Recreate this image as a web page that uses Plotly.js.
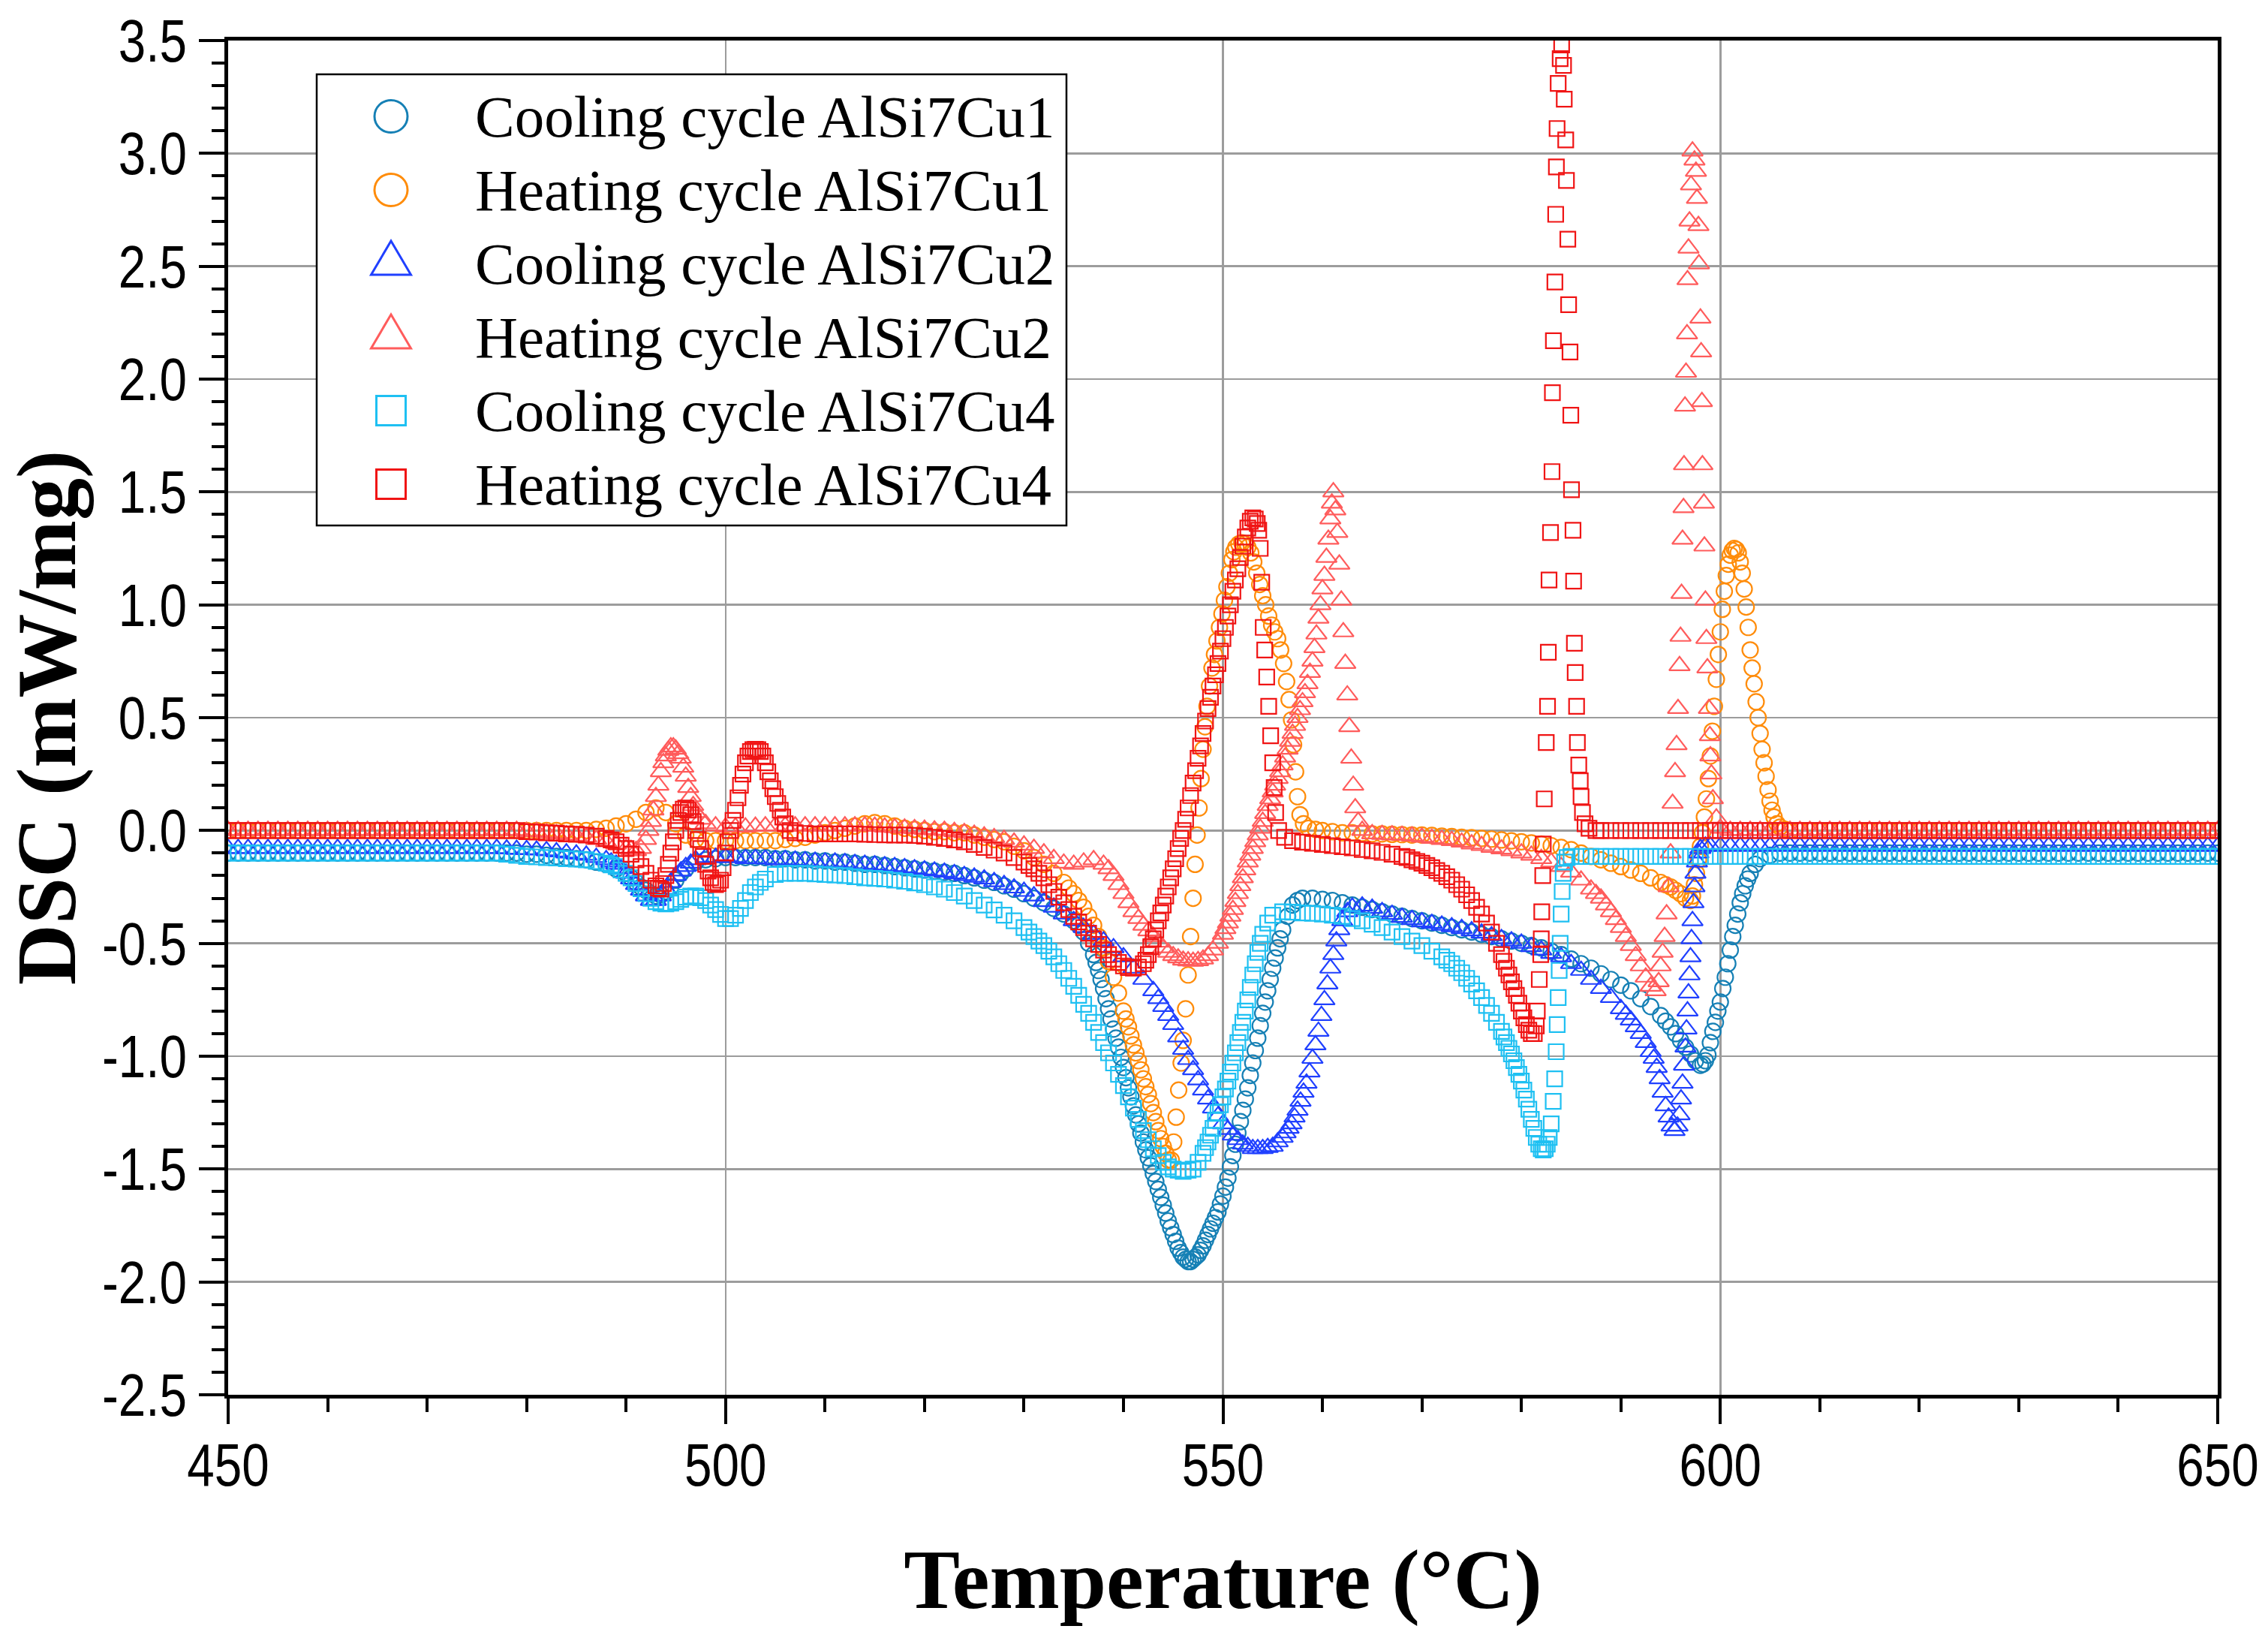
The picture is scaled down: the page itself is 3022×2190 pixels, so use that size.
<!DOCTYPE html>
<html><head><meta charset="utf-8">
<script src="https://cdn.plot.ly/plotly-3.0.1.min.js"></script>
<style>html,body{margin:0;padding:0;background:#fff;}</style>
</head><body>
<div id="chart" style="width:3022px;height:2190px;"></div>
<script>
// ---------------- DATA (temperature °C, DSC mW/mg) ----------------
const seriesNames = ['Cooling cycle AlSi7Cu1','Heating cycle AlSi7Cu1','Cooling cycle AlSi7Cu2','Heating cycle AlSi7Cu2','Cooling cycle AlSi7Cu4','Heating cycle AlSi7Cu4'];
const xTickVals = [450,500,550,600,650];
const xTickText = ['450','500','550','600','650'];
const yTickVals = [-2.5,-2,-1.5,-1,-0.5,0,0.5,1,1.5,2,2.5,3,3.5];
const yTickText = ['-2.5','-2.0','-1.5','-1.0','-0.5','0.0','0.5','1.0','1.5','2.0','2.5','3.0','3.5'];

const coolingCu1 = [
[450,-0.1],[451,-0.1],[452,-0.1],[453,-0.1],[454,-0.1],[455,-0.1],[456,-0.1],[457,-0.1],[458,-0.1],[459,-0.1],[460,-0.1],[461,-0.1],[462,-0.1],[463,-0.1],[464,-0.1],[465,-0.1],[466,-0.1],[467,-0.1],[468,-0.1],[469,-0.1],[470,-0.1],[471,-0.1],[472,-0.1],[473,-0.1],[474,-0.1],[475,-0.1],[476,-0.1],[477,-0.1],[478,-0.1],[479,-0.1],
[480,-0.105],[481,-0.105],[482,-0.11],[483,-0.115],[484,-0.12],[485,-0.125],[486,-0.13],[487,-0.14],[488,-0.15],[489,-0.17],[490,-0.19],[490.5,-0.21],[491,-0.23],[491.5,-0.25],[492,-0.265],[492.5,-0.28],[493,-0.29],[493.5,-0.285],[494,-0.27],[494.5,-0.25],[495,-0.22],[495.5,-0.19],[496,-0.17],[497,-0.14],[498,-0.13],[499,-0.125],
[500,-0.12],[501,-0.12],[502,-0.12],[503,-0.12],[504,-0.12],[505,-0.125],[506,-0.125],[507,-0.13],[508,-0.13],[509,-0.135],[510,-0.135],[511,-0.14],[512,-0.14],[513,-0.145],[514,-0.15],[515,-0.15],[516,-0.155],[517,-0.16],[518,-0.165],[519,-0.17],[520,-0.175],[521,-0.18],[522,-0.185],[523,-0.19],[524,-0.2],[525,-0.21],[526,-0.22],[527,-0.23],[528,-0.245],[529,-0.26],[530,-0.28],[531,-0.3],[532,-0.32],[533,-0.345],[534,-0.37],[535,-0.4],[535.5,-0.42],[536,-0.45],[536.5,-0.5],[537,-0.55],[537.25,-0.585],[537.5,-0.62],[537.75,-0.66],
[538,-0.7],[538.25,-0.745],[538.5,-0.79],[538.75,-0.835],[539,-0.88],[539.25,-0.92],[539.5,-0.96],[539.75,-1.005],[540,-1.05],[540.25,-1.095],[540.5,-1.14],[540.75,-1.18],[541,-1.22],[541.25,-1.26],[541.5,-1.3],[541.75,-1.34],[542,-1.38],[542.25,-1.415],[542.5,-1.45],[542.75,-1.485],[543,-1.52],[543.25,-1.555],[543.5,-1.59],[543.75,-1.625],[544,-1.66],[544.25,-1.695],[544.5,-1.73],[544.75,-1.76],[545,-1.79],[545.25,-1.82],[545.5,-1.85],[545.75,-1.87],[546,-1.89],[546.25,-1.9],[546.5,-1.91],[546.75,-1.91],[547,-1.9],[547.25,-1.89],[547.5,-1.88],[547.75,-1.86],
[548,-1.84],[548.25,-1.815],[548.5,-1.79],[548.75,-1.765],[549,-1.74],[549.25,-1.715],[549.5,-1.69],[549.75,-1.655],[550,-1.62],[550.25,-1.58],[550.5,-1.54],[550.75,-1.49],[551,-1.44],[551.25,-1.39],[551.5,-1.34],[551.75,-1.29],[552,-1.24],[552.25,-1.19],[552.5,-1.14],[552.75,-1.085],[553,-1.03],[553.25,-0.975],[553.5,-0.92],[553.75,-0.865],[554,-0.81],[554.25,-0.76],[554.5,-0.71],[554.75,-0.66],[555,-0.61],[555.25,-0.565],[555.5,-0.52],[555.75,-0.48],[556,-0.44],[556.5,-0.38],[557,-0.33],[557.5,-0.31],
[558,-0.3],[559,-0.3],[560,-0.305],[561,-0.31],[562,-0.32],[563,-0.33],[564,-0.34],[565,-0.35],[566,-0.36],[567,-0.37],[568,-0.38],[569,-0.39],[570,-0.4],[571,-0.41],[572,-0.42],[573,-0.43],[574,-0.44],[575,-0.45],[576,-0.46],[577,-0.47],[578,-0.48],[579,-0.49],[580,-0.5],[581,-0.51],[582,-0.52],[583,-0.535],[584,-0.55],[585,-0.57],[586,-0.59],[587,-0.61],[588,-0.635],[589,-0.66],[590,-0.685],[591,-0.71],[592,-0.745],[593,-0.78],[594,-0.82],[594.5,-0.845],[595,-0.87],[595.5,-0.9],[596,-0.93],[596.5,-0.96],[597,-0.99],[597.5,-1.02],
[598,-1.04],[598.25,-1.035],[598.5,-1.02],[598.75,-0.995],[599,-0.94],[599.25,-0.89],[599.5,-0.85],[599.75,-0.8],[600,-0.76],[600.25,-0.7],[600.5,-0.65],[600.75,-0.59],[601,-0.53],[601.25,-0.47],[601.5,-0.42],[601.75,-0.37],[602,-0.32],[602.25,-0.28],[602.5,-0.245],[602.75,-0.215],[603,-0.19],[603.5,-0.15],[604,-0.125],[605,-0.11],
[606,-0.1],[607,-0.1],[608,-0.1],[609,-0.1],[610,-0.1],[611,-0.1],[612,-0.1],[613,-0.1],[614,-0.1],[615,-0.1],[616,-0.1],[617,-0.1],[618,-0.1],[619,-0.1],[620,-0.1],[621,-0.1],[622,-0.1],[623,-0.1],[624,-0.1],[625,-0.1],[626,-0.1],[627,-0.1],[628,-0.1],[629,-0.1],[630,-0.1],[631,-0.1],[632,-0.1],[633,-0.1],[634,-0.1],[635,-0.1],[636,-0.1],[637,-0.1],[638,-0.1],[639,-0.1],[640,-0.1],[641,-0.1],[642,-0.1],[643,-0.1],[644,-0.1],[645,-0.1],[646,-0.1],[647,-0.1],[648,-0.1],[649,-0.1],[650,-0.1]
];

const heatingCu1 = [
[450,0],[451,0],[452,0],[453,0],[454,0],[455,0],[456,0],[457,0],[458,0],[459,0],[460,0],[461,0],[462,0],[463,0],[464,0],[465,0],[466,0],[467,0],[468,0],[469,0],[470,0],[471,0],[472,0],[473,0],[474,0],[475,0],[476,0],[477,0],[478,0],[479,0],[480,0],[481,0],[482,0],[483,0],[484,0],[485,0],
[486,0],[487,0.005],[488,0.01],[489,0.02],[490,0.03],[491,0.05],[492,0.08],[493,0.1],[494,0.08],[495,0.03],[496,-0.02],[497,-0.04],[498,-0.045],[499,-0.045],[500,-0.045],[501,-0.045],[502,-0.045],[503,-0.045],[504,-0.045],[505,-0.045],[506,-0.04],[507,-0.035],[508,-0.03],[509,-0.02],[510,-0.01],[511,0],[512,0.01],[513,0.02],[514,0.03],[515,0.035],[516,0.03],[517,0.02],[518,0.01],[519,0.005],[520,0],[521,-0.005],[522,-0.005],[523,-0.01],[524,-0.01],[525,-0.02],[526,-0.03],[527,-0.04],[528,-0.05],[529,-0.07],[530,-0.09],[531,-0.12],[532,-0.15],[533,-0.19],[534,-0.23],[534.5,-0.255],[535,-0.28],[535.5,-0.31],[536,-0.34],[536.5,-0.38],[537,-0.42],[537.5,-0.47],[538,-0.52],[538.5,-0.58],[539,-0.65],[539.5,-0.72],
[540,-0.8],[540.25,-0.835],[540.5,-0.87],[540.75,-0.91],[541,-0.95],[541.25,-0.985],[541.5,-1.02],[541.75,-1.06],[542,-1.1],[542.25,-1.135],[542.5,-1.17],[542.75,-1.21],[543,-1.25],[543.25,-1.29],[543.5,-1.33],[543.75,-1.365],[544,-1.4],[544.25,-1.43],[544.5,-1.46],[544.8,-1.46],[545.05,-1.38],[545.3,-1.27],[545.55,-1.15],[545.8,-1.03],[546,-0.93],[546.25,-0.79],[546.5,-0.64],[546.75,-0.47],[547,-0.3],[547.2,-0.15],[547.4,-0.02],[547.6,0.1],[547.8,0.23],[548,0.36],[548.2,0.46],[548.4,0.55],[548.65,0.64],[548.9,0.72],[549.15,0.78],[549.4,0.84],[549.65,0.9],[549.9,0.96],[550.15,1.02],[550.4,1.08],[550.65,1.14],[550.9,1.2],[551.1,1.235],[551.3,1.255],[551.6,1.27],[551.9,1.275],[552.2,1.27],[552.5,1.255],[552.8,1.23],[553.1,1.19],[553.4,1.14],[553.7,1.09],[554,1.04],[554.3,1],[554.6,0.95],[554.9,0.91],[555.2,0.88],[555.5,0.85],[555.8,0.8],[556.1,0.74],[556.4,0.66],[556.65,0.58],[556.9,0.49],[557.1,0.38],[557.3,0.26],[557.5,0.15],[557.75,0.07],[558.1,0.03],[558.6,0.01],[559.3,0.005],
[560,0],[561,-0.005],[562,-0.01],[563,-0.01],[564,-0.012],[565,-0.015],[566,-0.015],[567,-0.017],[568,-0.018],[569,-0.02],[570,-0.02],[571,-0.022],[572,-0.025],[573,-0.027],[574,-0.03],[575,-0.032],[576,-0.035],[577,-0.038],[578,-0.042],[579,-0.046],[580,-0.05],[581,-0.055],[582,-0.06],[583,-0.067],[584,-0.075],[585,-0.085],[586,-0.1],[587,-0.115],[588,-0.13],[589,-0.145],[590,-0.16],[591,-0.175],[592,-0.19],[593,-0.21],[594,-0.23],[594.5,-0.24],[595,-0.25],[595.5,-0.265],[596,-0.28],[596.5,-0.3],[597,-0.31],
[597.2,-0.29],[597.4,-0.24],[597.6,-0.19],[597.8,-0.13],[598,-0.07],[598.2,-0.01],[598.4,0.06],[598.6,0.14],[598.8,0.23],[599,0.33],[599.2,0.44],[599.4,0.55],[599.6,0.67],[599.8,0.78],[600,0.88],[600.2,0.98],[600.4,1.06],[600.6,1.13],[600.8,1.18],[601,1.22],[601.2,1.24],[601.4,1.25],[601.6,1.245],[601.8,1.23],[602,1.19],[602.2,1.14],[602.4,1.07],[602.6,0.99],[602.8,0.9],[603,0.8],[603.2,0.72],[603.4,0.65],[603.6,0.57],[603.8,0.5],[604,0.43],[604.2,0.36],[604.4,0.3],[604.6,0.24],[604.8,0.18],[605,0.13],[605.2,0.09],[605.4,0.06],[605.7,0.03],[606,0.015],[606.5,0.005],
[607,0],[608,0],[609,0],[610,0],[611,0],[612,0],[613,0],[614,0],[615,0],[616,0],[617,0],[618,0],[619,0],[620,0],[621,0],[622,0],[623,0],[624,0],[625,0],[626,0],[627,0],[628,0],[629,0],[630,0],[631,0],[632,0],[633,0],[634,0],[635,0],[636,0],[637,0],[638,0],[639,0],[640,0],[641,0],[642,0],[643,0],[644,0],[645,0],[646,0],[647,0],[648,0],[649,0],[650,0]
];

const coolingCu2 = [
[450,-0.08],[451,-0.08],[452,-0.08],[453,-0.08],[454,-0.08],[455,-0.08],[456,-0.08],[457,-0.08],[458,-0.08],[459,-0.08],[460,-0.08],[461,-0.08],[462,-0.08],[463,-0.08],[464,-0.08],[465,-0.08],[466,-0.08],[467,-0.08],[468,-0.08],[469,-0.08],[470,-0.08],[471,-0.08],[472,-0.08],[473,-0.08],[474,-0.08],[475,-0.08],[476,-0.08],[477,-0.08],
[478,-0.082],[479,-0.084],[480,-0.085],[481,-0.087],[482,-0.09],[483,-0.095],[484,-0.1],[485,-0.105],[486,-0.11],[487,-0.12],[488,-0.13],[488.5,-0.14],[489,-0.15],[489.5,-0.17],[490,-0.19],[490.5,-0.215],[491,-0.24],[491.5,-0.265],[492,-0.29],[492.5,-0.31],[493,-0.31],[493.5,-0.29],[494,-0.26],[494.5,-0.23],[495,-0.2],[495.5,-0.18],[496,-0.16],[496.5,-0.145],[497,-0.13],[498,-0.12],[499,-0.12],[500,-0.12],[501,-0.12],[502,-0.125],[503,-0.125],[504,-0.127],[505,-0.13],[506,-0.13],[507,-0.132],[508,-0.135],[509,-0.137],[510,-0.14],[511,-0.14],[512,-0.143],[513,-0.147],[514,-0.15],[515,-0.153],[516,-0.157],[517,-0.16],[518,-0.165],[519,-0.17],[520,-0.175],[521,-0.18],[522,-0.185],[523,-0.192],[524,-0.2],[525,-0.207],[526,-0.215],[527,-0.227],[528,-0.24],[529,-0.255],[530,-0.27],[531,-0.29],[532,-0.315],[533,-0.34],[534,-0.37],[535,-0.4],[536,-0.43],[537,-0.46],[538,-0.49],[539,-0.52],[540,-0.56],[541,-0.61],[542,-0.66],[543,-0.71],[543.5,-0.745],[544,-0.78],[544.5,-0.82],[545,-0.86],[545.5,-0.915],[546,-0.97],[546.5,-1.015],[547,-1.06],[547.5,-1.105],[548,-1.15],[548.5,-1.19],[549,-1.23],[549.5,-1.265],[550,-1.3],[550.5,-1.325],[551,-1.35],[551.5,-1.37],[552,-1.39],[552.5,-1.4],[553,-1.41],[553.5,-1.41],[554,-1.41],[554.5,-1.405],[555,-1.4],[555.5,-1.38],[556,-1.36],[556.3,-1.34],[556.6,-1.32],[556.9,-1.3],[557.2,-1.27],[557.5,-1.24],[557.8,-1.2],[558.1,-1.16],[558.4,-1.12],[558.7,-1.07],[559,-1.01],[559.3,-0.95],[559.6,-0.89],[559.9,-0.82],[560.2,-0.75],[560.5,-0.68],[560.8,-0.61],[561.1,-0.55],[561.4,-0.49],[561.7,-0.44],[562,-0.4],[562.5,-0.36],[563,-0.34],[564,-0.335],[565,-0.345],[566,-0.36],[567,-0.372],[568,-0.385],[569,-0.395],[570,-0.405],[571,-0.412],[572,-0.42],[573,-0.427],[574,-0.435],[575,-0.445],[576,-0.455],[577,-0.467],[578,-0.48],[579,-0.49],[580,-0.5],[581,-0.515],[582,-0.53],[583,-0.545],[584,-0.56],[585,-0.59],[586,-0.62],[587,-0.66],[588,-0.7],[589,-0.74],[590,-0.79],[590.5,-0.815],[591,-0.84],[591.5,-0.87],[592,-0.9],[592.5,-0.94],[593,-0.98],[593.3,-1.01],[593.6,-1.05],[593.9,-1.1],[594.2,-1.16],[594.5,-1.22],[594.8,-1.27],[595.1,-1.31],[595.4,-1.33],[595.7,-1.31],[595.9,-1.26],[596.05,-1.19],[596.2,-1.12],[596.35,-1.04],[596.5,-0.96],[596.6,-0.88],[596.7,-0.8],[596.8,-0.72],[596.9,-0.64],[597,-0.56],[597.1,-0.48],[597.2,-0.4],[597.3,-0.32],[597.4,-0.25],[597.5,-0.19],[597.65,-0.14],[597.8,-0.1],[598,-0.08],[598.5,-0.07],
[599,-0.07],[600,-0.07],[601,-0.07],[602,-0.07],[603,-0.07],[604,-0.07],[605,-0.07],[606,-0.07],[607,-0.07],[608,-0.07],[609,-0.07],[610,-0.07],[611,-0.07],[612,-0.07],[613,-0.07],[614,-0.07],[615,-0.07],[616,-0.07],[617,-0.07],[618,-0.07],[619,-0.07],[620,-0.07],[621,-0.07],[622,-0.07],[623,-0.07],[624,-0.07],[625,-0.07],[626,-0.07],[627,-0.07],[628,-0.07],[629,-0.07],[630,-0.07],[631,-0.07],[632,-0.07],[633,-0.07],[634,-0.07],[635,-0.07],[636,-0.07],[637,-0.07],[638,-0.07],[639,-0.07],[640,-0.07],[641,-0.07],[642,-0.07],[643,-0.07],[644,-0.07],[645,-0.07],[646,-0.07],[647,-0.07],[648,-0.07],[649,-0.07],[650,-0.07]
];

const heatingCu2 = [
[450,0],[451,0],[452,0],[453,0],[454,0],[455,0],[456,0],[457,0],[458,0],[459,0],[460,0],[461,0],[462,0],[463,0],[464,0],[465,0],[466,0],[467,0],[468,0],[469,0],[470,0],[471,0],[472,0],[473,0],[474,0],[475,0],[476,0],[477,0],[478,0],[479,0],
[480,-0.005],[481,-0.005],[482,-0.01],[483,-0.015],[484,-0.02],[485,-0.025],[486,-0.03],[487,-0.04],[488,-0.05],[489,-0.06],[490,-0.08],[490.5,-0.085],[491,-0.09],[491.5,-0.08],[492,-0.04],[492.25,0],[492.5,0.04],[492.75,0.09],[493,0.15],[493.25,0.2],[493.5,0.26],[493.75,0.3],[494,0.33],[494.25,0.355],[494.5,0.37],[494.75,0.37],[495,0.36],[495.25,0.34],[495.5,0.32],[495.75,0.28],[496,0.24],[496.25,0.19],[496.5,0.15],[496.75,0.11],[497,0.08],[497.5,0.05],[498,0.03],[499,0.02],[500,0.015],[501,0.015],[502,0.015],[503,0.018],[504,0.02],[505,0.02],[506,0.02],[507,0.02],[508,0.02],[509,0.02],[510,0.02],[511,0.02],[512,0.02],[513,0.02],[514,0.02],[515,0.018],[516,0.015],[517,0.012],[518,0.01],[519,0.008],[520,0.005],[521,0.002],[522,0],[523,-0.005],[524,-0.01],[525,-0.017],[526,-0.025],[527,-0.032],[528,-0.04],[529,-0.052],[530,-0.065],[531,-0.08],[532,-0.1],[533,-0.125],[534,-0.145],[535,-0.15],[536,-0.14],[537,-0.13],[538,-0.15],[538.5,-0.17],[539,-0.2],[539.5,-0.24],[540,-0.28],[540.5,-0.32],[541,-0.36],[541.5,-0.39],[542,-0.42],[542.5,-0.445],[543,-0.47],[543.5,-0.495],[544,-0.52],[544.5,-0.54],[545,-0.555],[545.5,-0.565],[546,-0.575],[546.5,-0.578],[547,-0.58],[547.5,-0.577],[548,-0.57],[548.5,-0.555],[549,-0.53],[549.5,-0.5],[550,-0.46],[550.25,-0.435],[550.5,-0.41],[550.75,-0.38],[551,-0.35],[551.25,-0.315],[551.5,-0.28],[551.75,-0.245],[552,-0.21],[552.25,-0.175],[552.5,-0.14],[552.75,-0.11],[553,-0.08],[553.25,-0.05],[553.5,-0.02],[553.75,0.01],[554,0.04],[554.25,0.075],[554.5,0.11],[554.75,0.14],[555,0.17],[555.25,0.2],[555.5,0.23],[555.75,0.26],[556,0.29],[556.25,0.325],[556.5,0.36],[556.75,0.395],[557,0.43],[557.25,0.465],[557.5,0.5],[557.75,0.535],[558,0.57],[558.25,0.61],[558.5,0.65],[558.75,0.7],[559,0.75],[559.2,0.81],[559.4,0.87],[559.6,0.94],[559.8,1],[560,1.07],[560.2,1.13],[560.4,1.21],[560.6,1.29],[560.8,1.38],[560.95,1.45],[561.1,1.5],[561.3,1.42],[561.5,1.32],[561.7,1.18],[561.9,1.02],[562.1,0.88],[562.3,0.74],[562.5,0.6],[562.7,0.46],[562.9,0.32],[563.1,0.2],[563.3,0.1],[563.6,0.04],[564,0],[565,-0.015],[566,-0.018],[567,-0.02],[568,-0.022],[569,-0.025],[570,-0.03],[571,-0.035],[572,-0.04],[573,-0.045],[574,-0.052],[575,-0.06],[576,-0.067],[577,-0.075],[578,-0.082],[579,-0.09],[580,-0.1],[581,-0.11],[582,-0.125],[583,-0.14],[584,-0.16],[585,-0.185],[586,-0.22],[587,-0.26],[587.5,-0.28],[588,-0.3],[588.5,-0.33],[589,-0.36],[589.5,-0.395],[590,-0.43],[590.5,-0.47],[591,-0.51],[591.5,-0.555],[592,-0.6],[592.5,-0.65],[593,-0.69],[593.5,-0.71],[593.8,-0.67],[594,-0.6],[594.2,-0.54],[594.4,-0.47],[594.6,-0.37],[594.8,-0.25],[595,-0.1],[595.2,0.12],[595.45,0.26],[595.6,0.38],[595.75,0.54],[595.9,0.73],[596,0.86],[596.1,1.05],[596.2,1.29],[596.3,1.43],[596.35,1.62],[596.45,1.88],[596.55,2.03],[596.65,2.2],[596.7,2.44],[596.8,2.58],[596.9,2.7],[597.05,2.86],[597.2,3.01],[597.4,2.97],[597.55,2.92],[597.65,2.8],[597.8,2.68],[597.85,2.51],[598,2.27],[598.07,2.12],[598.15,1.9],[598.2,1.62],[598.35,1.45],[598.4,1.26],[598.5,1.02],[598.6,0.85],[598.7,0.72],[598.85,0.54],[598.95,0.42],[599,0.33],[599.1,0.25],[599.25,0.14],[599.6,0.055],[600,0.01],
[601,0],[602,0],[603,0],[604,0],[605,0],[606,0],[607,0],[608,0],[609,0],[610,0],[611,0],[612,0],[613,0],[614,0],[615,0],[616,0],[617,0],[618,0],[619,0],[620,0],[621,0],[622,0],[623,0],[624,0],[625,0],[626,0],[627,0],[628,0],[629,0],[630,0],[631,0],[632,0],[633,0],[634,0],[635,0],[636,0],[637,0],[638,0],[639,0],[640,0],[641,0],[642,0],[643,0],[644,0],[645,0],[646,0],[647,0],[648,0],[649,0],[650,0]
];

const coolingCu4 = [
[450,-0.1],[451,-0.1],[452,-0.1],[453,-0.1],[454,-0.1],[455,-0.1],[456,-0.1],[457,-0.1],[458,-0.1],[459,-0.1],[460,-0.1],[461,-0.1],[462,-0.1],[463,-0.1],[464,-0.1],[465,-0.1],[466,-0.1],[467,-0.1],[468,-0.1],[469,-0.1],[470,-0.1],[471,-0.1],[472,-0.1],[473,-0.1],[474,-0.1],[475,-0.1],[476,-0.1],[477,-0.1],
[478,-0.105],[479,-0.11],[480,-0.115],[481,-0.117],[482,-0.12],[483,-0.122],[484,-0.125],[485,-0.127],[486,-0.13],[487,-0.137],[488,-0.145],[488.5,-0.152],[489,-0.16],[489.5,-0.175],[490,-0.19],[490.5,-0.21],[491,-0.235],[491.5,-0.258],[492,-0.28],[492.5,-0.3],[493,-0.315],[493.5,-0.322],[494,-0.325],[494.5,-0.322],[495,-0.315],[495.5,-0.305],[496,-0.295],[496.5,-0.29],[497,-0.29],[497.5,-0.298],[498,-0.31],[498.5,-0.33],[499,-0.35],[499.5,-0.372],[500,-0.39],[500.5,-0.39],[501,-0.375],[501.5,-0.345],[502,-0.31],[502.5,-0.275],[503,-0.25],[503.5,-0.23],[504,-0.215],[505,-0.195],[506,-0.19],[507,-0.19],[508,-0.19],[509,-0.192],[510,-0.195],[511,-0.197],[512,-0.2],[513,-0.205],[514,-0.21],[515,-0.212],[516,-0.215],[517,-0.22],[518,-0.225],[519,-0.232],[520,-0.24],[521,-0.25],[522,-0.26],[523,-0.275],[524,-0.29],[525,-0.31],[526,-0.33],[527,-0.352],[528,-0.375],[529,-0.4],[530,-0.43],[530.5,-0.45],[531,-0.47],[531.5,-0.49],[532,-0.51],[532.5,-0.535],[533,-0.56],[533.5,-0.59],[534,-0.62],[534.5,-0.655],[535,-0.69],[535.5,-0.73],[536,-0.77],[536.5,-0.81],[537,-0.85],[537.5,-0.895],[538,-0.94],[538.5,-0.985],[539,-1.03],[539.5,-1.08],[540,-1.13],[540.5,-1.18],[541,-1.23],[541.5,-1.28],[542,-1.33],[542.5,-1.37],[543,-1.41],[543.5,-1.44],[544,-1.47],[544.5,-1.49],[545,-1.5],[545.5,-1.505],[546,-1.51],[546.5,-1.505],[547,-1.5],[547.5,-1.47],[548,-1.43],[548.25,-1.405],[548.5,-1.38],[548.75,-1.35],[549,-1.32],[549.25,-1.285],[549.5,-1.25],[549.75,-1.215],[550,-1.18],[550.25,-1.145],[550.5,-1.11],[550.75,-1.07],[551,-1.03],[551.25,-0.985],[551.5,-0.94],[551.75,-0.895],[552,-0.85],[552.25,-0.8],[552.5,-0.75],[552.75,-0.695],[553,-0.64],[553.25,-0.59],[553.5,-0.54],[553.75,-0.5],[554,-0.46],[554.5,-0.41],[555,-0.375],[556,-0.36],[557,-0.362],[558,-0.365],[559,-0.367],[560,-0.37],[561,-0.375],[562,-0.38],[563,-0.39],[564,-0.4],[565,-0.415],[566,-0.43],[567,-0.45],[568,-0.47],[569,-0.49],[570,-0.51],[571,-0.535],[572,-0.56],[572.5,-0.575],[573,-0.59],[573.5,-0.61],[574,-0.63],[574.5,-0.655],[575,-0.68],[575.5,-0.71],[576,-0.74],[576.5,-0.775],[577,-0.81],[577.5,-0.85],[578,-0.89],[578.25,-0.915],[578.5,-0.94],[578.75,-0.965],[579,-0.99],[579.25,-1.02],[579.5,-1.05],[579.75,-1.08],[580,-1.11],[580.25,-1.15],[580.5,-1.19],[580.75,-1.235],[581,-1.28],[581.25,-1.32],[581.5,-1.36],[581.75,-1.39],[582,-1.41],[582.2,-1.415],[582.4,-1.41],[582.6,-1.39],[582.8,-1.36],[583,-1.3],[583.2,-1.2],[583.35,-1.1],[583.5,-0.98],[583.6,-0.86],[583.7,-0.74],[583.8,-0.62],[583.9,-0.5],[584,-0.37],[584.1,-0.27],[584.2,-0.19],[584.35,-0.14],[584.6,-0.12],[585,-0.115],
[586,-0.115],[587,-0.115],[588,-0.115],[589,-0.115],[590,-0.115],[591,-0.115],[592,-0.115],[593,-0.115],[594,-0.115],[595,-0.115],[596,-0.115],[597,-0.115],[598,-0.115],[599,-0.115],[600,-0.115],[601,-0.115],[602,-0.115],[603,-0.115],[604,-0.115],[605,-0.115],[606,-0.115],[607,-0.115],[608,-0.115],[609,-0.115],[610,-0.115],[611,-0.115],[612,-0.115],[613,-0.115],[614,-0.115],[615,-0.115],[616,-0.115],[617,-0.115],[618,-0.115],[619,-0.115],[620,-0.115],[621,-0.115],[622,-0.115],[623,-0.115],[624,-0.115],[625,-0.115],[626,-0.115],[627,-0.115],[628,-0.115],[629,-0.115],[630,-0.115],[631,-0.115],[632,-0.115],[633,-0.115],[634,-0.115],[635,-0.115],[636,-0.115],[637,-0.115],[638,-0.115],[639,-0.115],[640,-0.115],[641,-0.115],[642,-0.115],[643,-0.115],[644,-0.115],[645,-0.115],[646,-0.115],[647,-0.115],[648,-0.115],[649,-0.115],[650,-0.115]
];

const heatingCu4 = [
[450,0],[451,0],[452,0],[453,0],[454,0],[455,0],[456,0],[457,0],[458,0],[459,0],[460,0],[461,0],[462,0],[463,0],[464,0],[465,0],[466,0],[467,0],[468,0],[469,0],[470,0],[471,0],[472,0],[473,0],[474,0],[475,0],[476,0],[477,0],[478,0],[479,0],
[480,-0.005],[481,-0.007],[482,-0.01],[483,-0.012],[484,-0.015],[485,-0.017],[486,-0.02],[487,-0.025],[488,-0.035],[488.5,-0.042],[489,-0.05],[489.5,-0.065],[490,-0.08],[490.5,-0.105],[491,-0.13],[491.5,-0.16],[492,-0.19],[492.5,-0.22],[493,-0.245],[493.25,-0.255],[493.5,-0.26],[493.75,-0.235],[494,-0.2],[494.25,-0.15],[494.5,-0.1],[494.75,-0.05],[495,0],[495.25,0.045],[495.5,0.08],[495.75,0.095],[496,0.1],[496.25,0.09],[496.5,0.07],[496.75,0.04],[497,0],[497.25,-0.04],[497.5,-0.08],[497.75,-0.115],[498,-0.15],[498.25,-0.18],[498.5,-0.21],[498.75,-0.23],[499,-0.24],[499.25,-0.235],[499.5,-0.22],[499.75,-0.165],[500,-0.1],[500.25,-0.05],[500.5,0],[500.75,0.045],[501,0.09],[501.25,0.145],[501.5,0.2],[501.75,0.25],[502,0.3],[502.25,0.33],[502.5,0.35],[502.75,0.358],[503,0.36],[503.25,0.358],[503.5,0.35],[503.75,0.33],[504,0.3],[504.25,0.26],[504.5,0.22],[504.75,0.185],[505,0.15],[505.25,0.12],[505.5,0.09],[505.75,0.06],[506,0.03],[506.5,0],[507,-0.01],[508,-0.013],[509,-0.015],[510,-0.015],[511,-0.015],[512,-0.015],[513,-0.015],[514,-0.017],[515,-0.018],[516,-0.019],[517,-0.02],[518,-0.02],[519,-0.022],[520,-0.025],[521,-0.03],[522,-0.035],[523,-0.042],[524,-0.05],[525,-0.062],[526,-0.075],[527,-0.087],[528,-0.1],[529,-0.12],[530,-0.14],[530.5,-0.155],[531,-0.17],[531.5,-0.19],[532,-0.21],[532.5,-0.24],[533,-0.27],[533.5,-0.295],[534,-0.32],[534.5,-0.35],[535,-0.38],[535.5,-0.405],[536,-0.43],[536.5,-0.455],[537,-0.48],[537.5,-0.505],[538,-0.53],[538.5,-0.55],[539,-0.57],[539.5,-0.585],[540,-0.6],[540.5,-0.607],[541,-0.61],[541.5,-0.605],[542,-0.59],[542.25,-0.575],[542.5,-0.55],[542.75,-0.515],[543,-0.48],[543.25,-0.44],[543.5,-0.4],[543.75,-0.365],[544,-0.33],[544.25,-0.29],[544.5,-0.25],[544.75,-0.21],[545,-0.17],[545.25,-0.125],[545.5,-0.08],[545.75,-0.035],[546,0],[546.25,0.05],[546.5,0.1],[546.75,0.155],[547,0.21],[547.25,0.265],[547.5,0.32],[547.75,0.375],[548,0.43],[548.25,0.485],[548.5,0.54],[548.75,0.59],[549,0.64],[549.25,0.69],[549.5,0.74],[549.75,0.795],[550,0.85],[550.25,0.9],[550.5,0.95],[550.75,1],[551,1.06],[551.25,1.11],[551.5,1.16],[551.75,1.21],[552,1.26],[552.25,1.3],[552.5,1.34],[552.75,1.37],[553,1.385],[553.25,1.38],[553.45,1.36],[553.6,1.33],[553.75,1.25],[553.9,1.1],[554.05,0.9],[554.2,0.8],[554.4,0.68],[554.6,0.55],[554.8,0.42],[555,0.3],[555.15,0.19],[555.3,0.08],[555.6,0],[556.2,-0.03],[557,-0.045],[558,-0.052],[559,-0.057],[560,-0.062],[561,-0.067],[562,-0.072],[563,-0.077],[564,-0.084],[565,-0.09],[566,-0.097],[567,-0.105],[568,-0.115],[568.5,-0.12],[569,-0.13],[569.5,-0.137],[570,-0.145],[570.5,-0.155],[571,-0.165],[571.5,-0.177],[572,-0.19],[572.5,-0.205],[573,-0.22],[573.5,-0.24],[574,-0.26],[574.5,-0.285],[575,-0.31],[575.5,-0.34],[576,-0.37],[576.5,-0.41],[577,-0.45],[577.5,-0.5],[578,-0.55],[578.25,-0.58],[578.5,-0.61],[578.75,-0.64],[579,-0.67],[579.25,-0.7],[579.5,-0.73],[579.75,-0.765],[580,-0.8],[580.25,-0.83],[580.5,-0.86],[580.75,-0.885],[581,-0.9],[581.3,-0.9],[581.5,-0.866],[581.6,-0.8],[581.8,-0.66],[581.95,-0.55],[582,-0.48],[582.05,-0.36],[582.15,-0.2],[582.2,-0.06],[582.3,0.14],[582.5,0.39],[582.63,0.55],[582.71,0.79],[582.78,1.11],[582.93,1.32],[583.08,1.59],[583.12,1.94],[583.22,2.17],[583.37,2.43],[583.45,2.73],[583.52,2.94],[583.59,3.11],[583.7,3.31],[583.9,3.42],[584.05,3.48],[584.24,3.39],[584.31,3.24],[584.46,3.06],[584.53,2.88],[584.67,2.62],[584.75,2.33],[584.89,2.12],[584.97,1.84],[585.04,1.51],[585.19,1.33],[585.25,1.105],[585.33,0.83],[585.41,0.7],[585.55,0.55],[585.63,0.39],[585.77,0.29],[585.92,0.22],[586,0.15],[586.14,0.08],[586.4,0.03],[586.8,0.01],[587.5,0],
[588,0],[589,0],[590,0],[591,0],[592,0],[593,0],[594,0],[595,0],[596,0],[597,0],[598,0],[599,0],[600,0],[601,0],[602,0],[603,0],[604,0],[605,0],[606,0],[607,0],[608,0],[609,0],[610,0],[611,0],[612,0],[613,0],[614,0],[615,0],[616,0],[617,0],[618,0],[619,0],[620,0],[621,0],[622,0],[623,0],[624,0],[625,0],[626,0],[627,0],[628,0],[629,0],[630,0],[631,0],[632,0],[633,0],[634,0],[635,0],[636,0],[637,0],[638,0],[639,0],[640,0],[641,0],[642,0],[643,0],[644,0],[645,0],[646,0],[647,0],[648,0],[649,0],[650,0]
];

// ---------------- STYLE ----------------
const seriesData = [coolingCu1, heatingCu1, coolingCu2, heatingCu2, coolingCu4, heatingCu4];
const seriesColors = ['#1680b5','#ff8c0a','#2040ff','#ff5c5c','#1ec0f2','#f01414'];
const seriesSymbols = ['circle-open','circle-open','triangle-up-open','triangle-up-open','square-open','square-open'];
const seriesSizes = [21,21,24,24,20,20];

const W = 3022, H = 2190;
const M = {l:304, r:67, t:54, b:332};
const PW = W - M.l - M.r, PH = H - M.t - M.b;
const px2x = px => (px - M.l) / PW;
const py2y = py => (H - M.b - py) / PH;

const tickFont = {family:"'Liberation Sans', Arial, sans-serif", size:80, color:'#000'};
const serif = "'Liberation Serif', 'Times New Roman', serif";

const traces = seriesData.map((pts, i) => ({
  type:'scatter', mode:'markers', name:seriesNames[i],
  x: pts.map(p => p[0]), y: pts.map(p => p[1]),
  showlegend:false, hoverinfo:'skip', cliponaxis:true,
  marker:{symbol:seriesSymbols[i], size:seriesSizes[i], color:seriesColors[i], line:{color:seriesColors[i], width:2.2}}
}));

// legend (shapes + text annotations so the symbols can be as large as in the original)
const legBox = {x0:422, x1:1421, y0:99, y1:700};
const legRows = [155, 253, 351, 449, 547, 645];
const legSymX = 521, legTextX = 631;
const shapes = [{type:'rect', xref:'paper', yref:'paper', layer:'above',
  x0:px2x(legBox.x0), x1:px2x(legBox.x1), y0:py2y(legBox.y1), y1:py2y(legBox.y0),
  line:{color:'#000', width:2.5}, fillcolor:'#fff'}];
const annotations = [];
legRows.forEach((ry, i) => {
  const base = {xref:'paper', yref:'paper', layer:'above', xsizemode:'pixel', ysizemode:'pixel',
    xanchor:px2x(legSymX), yanchor:py2y(ry), line:{color:seriesColors[i], width:3}};
  const sym = seriesSymbols[i];
  if (sym.startsWith('circle')) shapes.push(Object.assign({type:'circle', x0:-22, x1:22, y0:-21.5, y1:21.5}, base));
  else if (sym.startsWith('triangle')) shapes.push(Object.assign({type:'path', path:'M-26.5,-15 L26.5,-15 L0,30 Z'}, base));
  else shapes.push(Object.assign({type:'rect', x0:-19.5, x1:19.5, y0:-19.5, y1:19.5}, base));
  annotations.push({xref:'paper', yref:'paper', x:px2x(legTextX), y:py2y(ry), xanchor:'left', yanchor:'middle',
    showarrow:false, text:seriesNames[i], font:{family:serif, size:79, color:'#000'}});
});

const axisCommon = {
  showline:true, linecolor:'#000', linewidth:5, mirror:true,
  ticks:'outside', ticklen:34, tickwidth:4, tickcolor:'#000',
  showgrid:true, gridcolor:'#9c9c9c', gridwidth:2.5, zeroline:false,
  tickfont:tickFont, automargin:false, tickmode:'array', ticklabeloverflow:'allow'
};

const layout = {
  width:W, height:H, margin:M, paper_bgcolor:'#fff', plot_bgcolor:'#fff', showlegend:false,
  xaxis: Object.assign({}, axisCommon, {
    range:[450,650], tickvals:xTickVals, ticktext:xTickText, ticklabelstandoff:-14,
    minor:{ticks:'outside', ticklen:18, tickwidth:4, tickcolor:'#000', tickmode:'linear', tick0:450, dtick:10, showgrid:false},
    title:{text:'<b>Temperature (°C)</b>', font:{family:serif, size:112, color:'#000'}, standoff:70}
  }),
  yaxis: Object.assign({}, axisCommon, {
    range:[-2.5,3.5], tickvals:yTickVals, ticktext:yTickText,
    minor:{ticks:'outside', ticklen:17, tickwidth:4, tickcolor:'#000', tickmode:'linear', tick0:-2.5, dtick:0.1, showgrid:false},
    title:{text:'<b>DSC (mW/mg)</b>', font:{family:serif, size:112, color:'#000'}, standoff:40}
  }),
  shapes:shapes, annotations:annotations
};

Plotly.newPlot('chart', traces, layout, {displayModeBar:false, staticPlot:true}).then(gd => {
  // narrow (Arial-Narrow-like) tick labels: squeeze each label horizontally about its anchor point
  gd.querySelectorAll('.xtick text, .ytick text').forEach(t => {
    const tr = t.getAttribute('transform') || '';
    const ax = parseFloat(t.getAttribute('x')) || 0;
    t.setAttribute('transform', tr + ' translate(' + ax + ',0) scale(0.82,1) translate(' + (-ax) + ',0)');
  });
});
</script>
</body></html>
